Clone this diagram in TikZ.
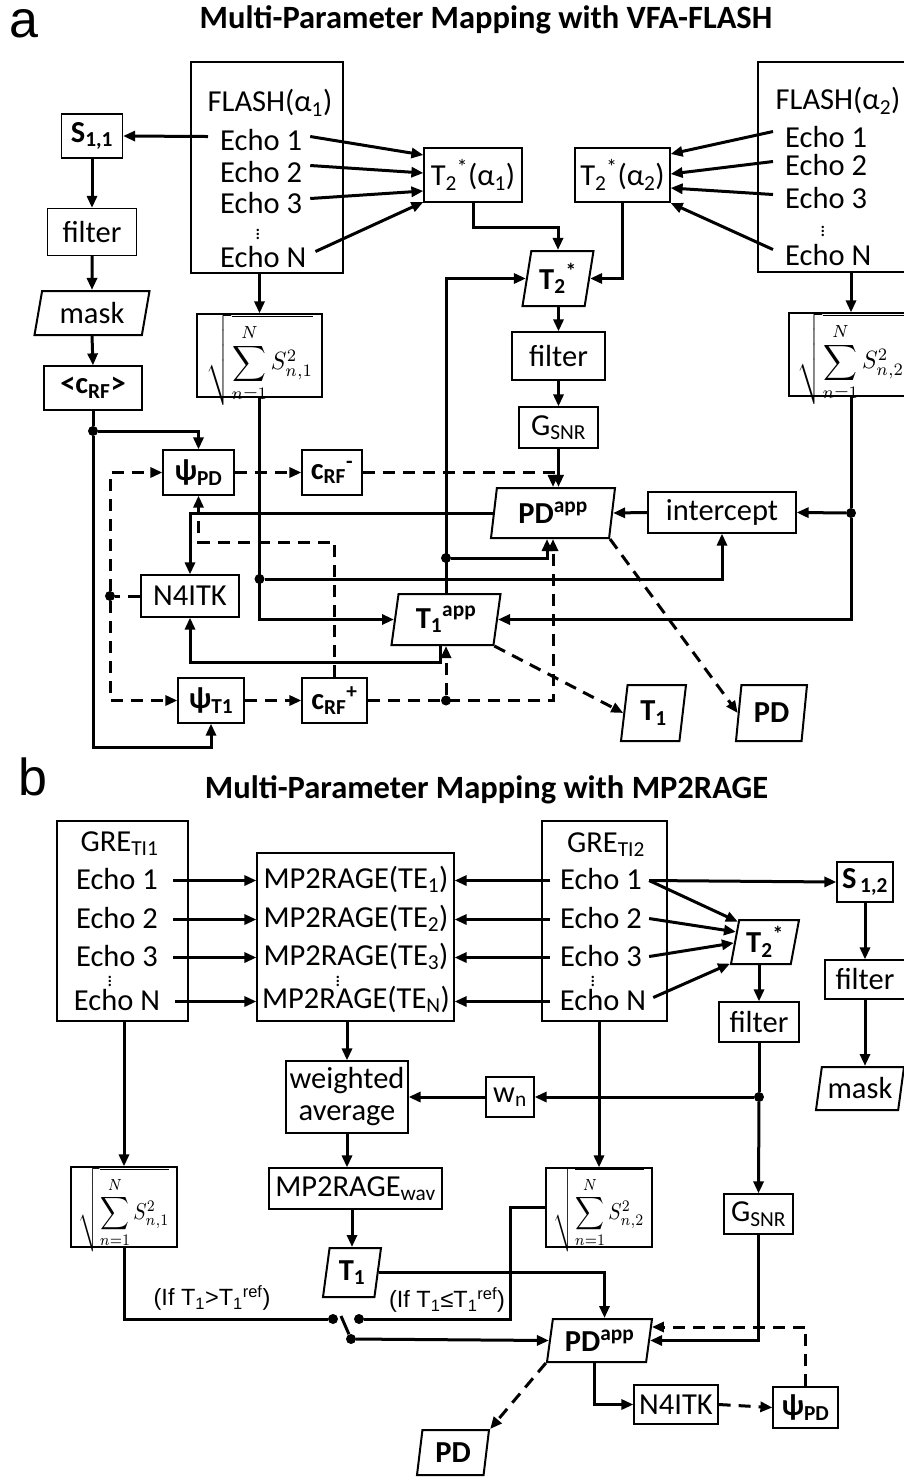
\RequirePackage{fix-cm}
\documentclass[tikz,border=0pt]{standalone}
\usepackage{amsmath}
\usepackage{graphicx}
\usepackage{fontspec}
\setmainfont{Carlito}
\newfontfamily\arialf{Liberation Sans}
\usetikzlibrary{arrows.meta,shapes.geometric,calc}
\newcommand\sqsum[3]{\scalebox{#1}[#2]{$\displaystyle\sqrt{\sum_{n=1}^{N}S_{n,#3}^{2}}$}}
\begin{document}
\begin{tikzpicture}[x=1pt,y=-1pt,
  font=\fontsize{30.5}{32}\selectfont,
  bx/.style 2 args={draw, line width=1.2pt, inner sep=1pt, minimum width=#1, minimum height=#2},
  pa/.style 2 args={draw, line width=2pt, trapezium, trapezium left angle=76, trapezium right angle=104, trapezium stretches body, minimum width=#1, minimum height=#2, inner sep=1pt, font=\fontsize{30.5}{32}\selectfont\bfseries},
  txt/.style={inner sep=0pt},
  ln/.style={line width=3pt},
  arr/.style={ln, -{Triangle[length=12pt,width=10pt]}},
  dsh/.style={ln, dash pattern=on 12pt off 8pt},
  darr/.style={dsh, -{Triangle[length=12pt,width=10pt]}},
  jdot/.style={circle, fill, inner sep=0pt, minimum size=10pt},
  mth/.style={font=\fontsize{10}{12}\selectfont, inner sep=0pt},
  vd/.style={inner sep=0pt, font=\fontsize{20}{20}\selectfont},
  ttl/.style={txt, font=\fontsize{32.5}{36}\selectfont\bfseries},
  cond/.style={txt, font=\arialf\fontsize{23.5}{26}\selectfont},
]
\path[use as bounding box, fill=white] (0,0) rectangle (904,1477);

% ================= Panel a =================
\node[txt, font=\arialf\fontsize{52}{52}\selectfont] (la) at (24,24) {a};
\node[ttl] (titA) at (486,20) {Multi-Parameter Mapping with VFA-FLASH};

% FLASH alpha1
\node[bx={152}{211}] (flash1) at (267,167.5) {};
\node[txt, anchor=base] (f1t) at (270,112) {FLASH(α\textsubscript{1})};
\node[txt, anchor=base west] (e11) at (220,150) {Echo 1};
\node[txt, anchor=base west] (e12) at (220,182) {Echo 2};
\node[txt, anchor=base west] (e13) at (220,213) {Echo 3};
\node[vd] (e1d) at (258,231) {\vdots};
\node[txt, anchor=base west] (e1N) at (220,267) {Echo N};

% FLASH alpha2
\node[bx={154}{210}] (flash2) at (835,167) {};
\node[txt, anchor=base] (f2t) at (838,110) {FLASH(α\textsubscript{2})};
\node[txt, anchor=base west] (e21) at (785,147) {Echo 1};
\node[txt, anchor=base west] (e22) at (785,175) {Echo 2};
\node[txt, anchor=base west] (e23) at (785,208) {Echo 3};
\node[vd] (e2d) at (823,228) {\vdots};
\node[txt, anchor=base west] (e2N) at (785,265) {Echo N};

\node[bx={61}{44}] (s11) at (92,136) {\textbf{S\textsubscript{1,1}}};
\node[bx={89}{47}] (filt1) at (92,232) {filter};
\node[pa={115}{44}, trapezium left angle=72, trapezium right angle=108, font=\fontsize{30.5}{32}\selectfont] (mask1) at (92,313) {mask};
\node[bx={98}{44}] (crf) at (93,388) {\textbf{<c\textsubscript{RF}>}};

\node[bx={98}{54}] (t2a1) at (473,175) {T\textsubscript{2}\textsuperscript{*}(α\textsubscript{1})};
\node[bx={95}{54}] (t2a2) at (622.5,175) {T\textsubscript{2}\textsuperscript{*}(α\textsubscript{2})};
\node[pa={71}{55}, trapezium left angle=75, trapezium right angle=105] (t2s) at (558,278.5) {T\textsubscript{2}\textsuperscript{*}};

\node[bx={125}{83}, mth] (sq1a) at (259.5,355.5) {};
\node[mth] (f1a) at (260,360) {\sqsum{2.35}{2.5}{1}};
\node[bx={123}{83}, mth] (sq2a) at (850.5,354.5) {};
\node[mth] (f2a) at (851,359) {\sqsum{2.35}{2.5}{2}};

\node[bx={93}{48}] (filt2) at (558.5,356) {filter};
\node[bx={79}{41}] (gsnr) at (558.5,427.5) {G\textsubscript{SNR}};
\node[pa={124}{50}] (pda) at (553,513) {PD\textsuperscript{app}};
\node[bx={148}{41}] (icpt) at (722,512.5) {intercept};
\node[pa={109}{51}] (t1a) at (446,619.5) {T\textsubscript{1}\textsuperscript{app}};

\node[bx={71}{45}] (psipd) at (198.5,472.5) {\textbf{ψ\textsubscript{PD}}};
\node[bx={60}{45}] (crfm) at (332,472.5) {\textbf{c\textsubscript{RF}\textsuperscript{-}}};
\node[bx={98}{42}] (n4a) at (190,596) {N4ITK};
\node[bx={66}{45}] (psit1) at (211,700.5) {\textbf{ψ\textsubscript{T1}}};
\node[bx={65}{45}] (crfp) at (334.5,700.5) {\textbf{c\textsubscript{RF}\textsuperscript{+}}};

\node[pa={65}{56}] (t1out) at (653.5,713) {T\textsubscript{1}};
\node[pa={71}{56}] (pdout) at (771.5,713) {PD};

% dots panel a
\node[jdot] (dA) at (851,513) {};
\node[jdot] (dB) at (sq1a.south |- 0,579) {};
\node[jdot] (dC) at (t1a.north |- 0,558) {};
\node[jdot] (dD) at (t1a.south |- crfp.east) {};
\node[jdot] (dE) at (110,596) {};
\node[jdot] (dF) at (crf.south |- 0,431) {};

% connectors panel a
\draw[arr] ($(e11.west)+(-12,-3)$) -- (s11.east);
\draw[arr] ($(e11.east)+(8,-3)$) -- ($(t2a1.west)+(0,-20)$);
\draw[arr] ($(e12.east)+(8,-6)$) -- ($(t2a1.west)+(0,-2)$);
\draw[arr] ($(e13.east)+(8,-4)$) -- ($(t2a1.west)+(0,16)$);
\draw[arr] ($(e1N.east)+(9,-5)$) -- ($(t2a1.west)+(0,27)$);
\draw[arr] ($(e21.west)+(-12,-5)$) -- ($(t2a2.east)+(0,-21)$);
\draw[arr] ($(e22.west)+(-12,-3)$) -- ($(t2a2.east)+(0,-1)$);
\draw[arr] ($(e23.west)+(-12,-3)$) -- ($(t2a2.east)+(0,13)$);
\draw[arr] ($(e2N.west)+(-12,-5)$) -- ($(t2a2.east)+(0,28)$);

\draw[arr] (s11.south) -- (filt1.north);
\draw[arr] (filt1.south) -- (mask1.north);
\draw[arr] (mask1.south) -- (crf.north);

\draw[arr] (sq1a.north |- flash1.south) -- (sq1a.north);
\draw[arr] (dA |- flash2.south) -- (dA |- sq2a.north);

\draw[arr] (t2a1.south) -- ++(0,25) -| (t2s.north);
\draw[arr] (t2a2.south) |- (t2s.east);
\draw[arr] (t1a.north) |- (t2s.west);
\draw[arr] (filt2.north |- t2s.south) -- (filt2.north);
\draw[arr] (filt2.south) -- (gsnr.north);
\draw[arr] (gsnr.south) -- (gsnr.south |- pda.north);
\draw[darr] (crfm.east) -| (pda.north);
\draw[arr] (icpt.west) -- (pda.east);

\draw[ln] (dA |- sq2a.south) -- (dA);
\draw[arr] (dA) -- (icpt.east);
\draw[arr] (dA) |- (t1a.east);
\draw[arr] (sq1a.south) |- (t1a.west);
\draw[arr] (dB) -| (icpt.south);
\draw[arr] (dC) -| ($(pda.south)+(-6,0)$);
\draw[arr] (pda.west) -| (n4a.north);
\draw[arr] ($(t1a.south)+(-6,0)$) -- ++(0,16) -| (n4a.south);

\draw[darr] (crfp.east) -| (pda.south);
\draw[darr] (dD) -- (t1a.south);
\draw[darr] (psipd.east) -- (crfm.west);
\draw[darr] (psit1.east) -- (crfp.west);
\draw[dsh] (n4a.west) -- (dE);
\draw[darr] (dE) |- (psipd.west);
\draw[darr] (dE) |- (psit1.west);
\draw[darr] (crfp.north) -- ++(0,-135) -| (psipd.south);

\draw[ln] (crf.south) -- (dF);
\draw[arr] (dF) -| (psipd.north);
\draw[arr] (dF) -- ++(0,316) -| (psit1.south);

\draw[darr] (pda.bottom right corner) -- (pdout.west);
\draw[darr] (t1a.bottom right corner) -- (t1out.west);

% ================= Panel b =================
\node[txt, font=\arialf\fontsize{52}{52}\selectfont] (lb) at (33,777) {b};
\node[ttl] (titB) at (486.5,790) {Multi-Parameter Mapping with MP2RAGE};

\node[bx={131}{200}] (gre1) at (122.5,921) {};
\node[txt, anchor=base] (g1t) at (119.5,851) {GRE\textsubscript{TI1}};
\node[txt, anchor=base] (g1e1) at (117,889) {Echo 1};
\node[txt, anchor=base] (g1e2) at (117,928) {Echo 2};
\node[txt, anchor=base] (g1e3) at (117,966) {Echo 3};
\node[vd] (g1d) at (110,978) {\vdots};
\node[txt, anchor=base] (g1eN) at (117,1010) {Echo N};

\node[bx={197}{168}] (mp) at (355.5,937) {};
\node[txt, anchor=base] (mp1) at (356,888) {MP2RAGE(TE\textsubscript{1})};
\node[txt, anchor=base] (mp2) at (356,927) {MP2RAGE(TE\textsubscript{2})};
\node[txt, anchor=base] (mp3) at (356,965) {MP2RAGE(TE\textsubscript{3})};
\node[vd] (mpd) at (338,978) {\vdots};
\node[txt, anchor=base] (mpN) at (356,1008) {MP2RAGE(TE\textsubscript{N})};

\node[bx={125}{200}] (gre2) at (604.5,921) {};
\node[txt, anchor=base] (g2t) at (606,852) {GRE\textsubscript{TI2}};
\node[txt, anchor=base] (g2e1) at (601,889) {Echo 1};
\node[txt, anchor=base] (g2e2) at (601,928) {Echo 2};
\node[txt, anchor=base] (g2e3) at (601,966) {Echo 3};
\node[vd] (g2d) at (593,978) {\vdots};
\node[txt, anchor=base] (g2eN) at (603,1010) {Echo N};

\node[bx={56}{40}] (s12) at (865,882) {\textbf{S\textsubscript{\,1,2}}};
\node[bx={80}{39}] (filtb2) at (865,979.5) {filter};
\node[pa={88}{43}, font=\fontsize{30.5}{32}\selectfont] (maskb) at (860,1088.5) {mask};
\node[pa={68}{44}] (t2sb) at (765,942) {T\textsubscript{2}\textsuperscript{*}};
\node[bx={80}{40}] (filtb1) at (759,1022) {filter};
\node[bx={48}{40}] (wn) at (510,1097) {w\textsubscript{n}};
\node[bx={122}{72}, align=center] (wavg) at (347,1097) {weighted\\average};
\node[bx={173}{41}] (mpwav) at (355.5,1188.5) {MP2RAGE\textsubscript{wav}};
\node[bx={106}{80}, mth] (sq1b) at (124,1207) {};
\node[mth] (f1b) at (124,1210) {\sqsum{2.0}{2.3}{1}};
\node[bx={106}{79}, mth] (sq2b) at (599,1207.5) {};
\node[mth] (f2b) at (599,1210) {\sqsum{2.0}{2.3}{2}};
\node[pa={58}{49}] (t1b) at (352,1272.5) {T\textsubscript{1}};
\node[bx={69}{40}] (gsnrb) at (758.5,1214) {G\textsubscript{SNR}};
\node[pa={105}{43}] (pdab) at (599.5,1340.5) {PD\textsuperscript{app}};
\node[bx={84}{39}] (n4b) at (676,1404.5) {N4ITK};
\node[bx={65}{41}] (psipdb) at (805.5,1407.5) {\textbf{ψ\textsubscript{PD}}};
\node[pa={72}{45}] (pdoutb) at (453,1452.5) {PD};

\node[cond] (lab1) at (212,1298) {(If T\textsubscript{1}>T\textsubscript{1}\textsuperscript{ref})};
\node[cond] (lab2) at (447,1300) {(If T\textsubscript{1}≤T\textsubscript{1}\textsuperscript{ref})};

\node[jdot] (dG) at (filtb1.south |- 0,1097) {};
\node[jdot] (sw1) at (333,1319) {};
\node[jdot] (sw2) at (359,1319) {};
\node[jdot] (sw3) at (351,1339) {};
\coordinate (swb) at (341,1316);

% connectors panel b
\foreach \e in {g1e1,g1e2,g1e3,g1eN}{
  \draw[arr] ($(\e.east)+(15,2)$) -- ($(\e.east -| mp.west)+(0,2)$);
}
\foreach \e in {g2e1,g2e2,g2e3,g2eN}{
  \draw[arr] ($(\e.west)+(-10,2)$) -- ($(\e.west -| mp.east)+(0,2)$);
}
\draw[arr] ($(g2e1.east)+(7,2)$) -- (s12.west);
\draw[arr] ($(g2e1.east)+(7,2)$) -- ($(t2sb.top left corner)!0.06!(t2sb.bottom left corner)$);
\draw[arr] ($(g2e2.east)+(7,1)$) -- ($(t2sb.top left corner)!0.28!(t2sb.bottom left corner)$);
\draw[arr] ($(g2e3.east)+(7,1)$) -- ($(t2sb.top left corner)!0.52!(t2sb.bottom left corner)$);
\draw[arr] ($(g2eN.east)+(7,-2)$) -- ($(t2sb.top left corner)!0.97!(t2sb.bottom left corner)$);

\draw[arr] (s12.south) -- (filtb2.north);
\draw[arr] (filtb2.south) -- (filtb2.south |- maskb.north);
\draw[arr] (filtb1.north |- t2sb.south) -- (filtb1.north);
\draw[ln] (filtb1.south) -- (dG);
\draw[arr] (dG) -- (wn.east);
\draw[arr] (dG) -- (gsnrb.north);
\draw[arr] (wn.west) -- (wavg.east);
\draw[arr] (wavg.north |- mp.south) -- (wavg.north);
\draw[arr] (wavg.south) -- (wavg.south |- mpwav.north);
\draw[arr] (t1b.north |- mpwav.south) -- (t1b.north);
\draw[arr] (sq1b.north |- gre1.south) -- (sq1b.north);
\draw[arr] (sq2b.north |- gre2.south) -- (sq2b.north);

\draw[arr] (gsnrb.south) |- (pdab.east);
\draw[arr] (t1b.east) -| ($(pdab.north)+(5,0)$);
\draw[darr] (psipdb.north) |- ($(pdab.top right corner)!0.2!(pdab.bottom right corner)$);
\draw[arr] ($(pdab.south)+(-5,0)$) |- (n4b.west);
\draw[darr] (n4b.east) -- (psipdb.west);
\draw[darr] (pdab.bottom left corner) -- (pdoutb.top right corner);

\draw[ln] (sq1b.south) |- (sw1);
\draw[ln] (sq2b.west) -- ++(-35,0) |- (sw2);
\draw[ln] (sw3) -- (swb);
\draw[arr] (sw3) -- (pdab.west);
\end{tikzpicture}
\end{document}
